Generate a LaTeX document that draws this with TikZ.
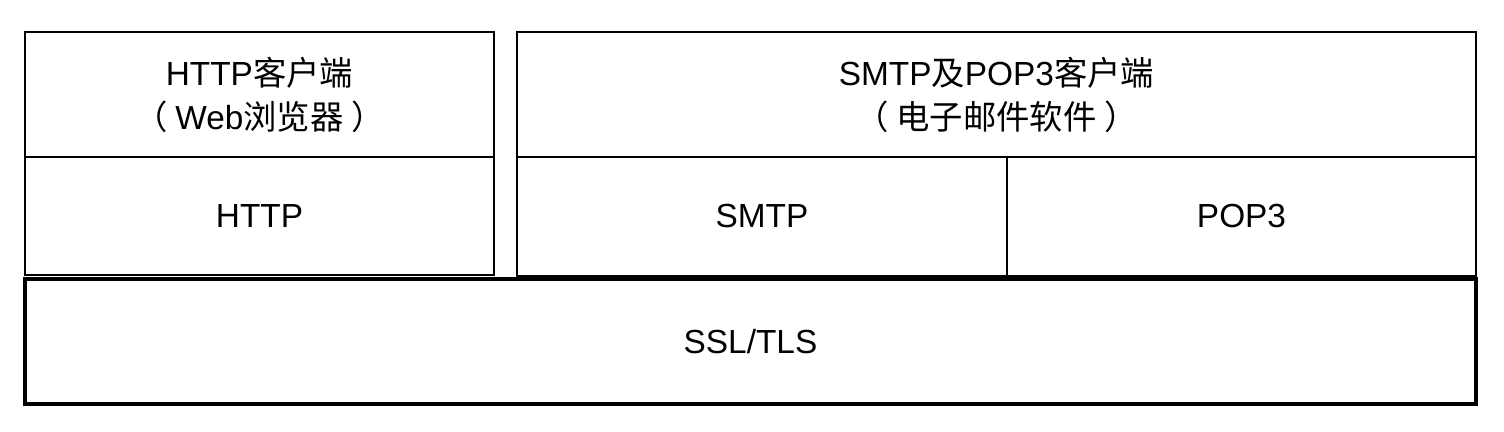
\documentclass[tikz,border=0pt]{standalone}
\usepackage{fontspec}
\setmainfont{Liberation Sans}
\newfontfamily\cjk{Noto Sans CJK SC}
\begin{document}
\begin{tikzpicture}[x=0.02cm,y=-0.02cm,
    layer/.style={draw,line width=1.1pt,inner sep=0pt,outer sep=0pt,
      align=center,font=\fontsize{19}{25}\selectfont},
    base/.style={layer,line width=2pt}]
      \useasboundingbox (0,0) rectangle (1504,432);
      % application side
      \node[layer,minimum width=9.38cm,minimum height=2.5cm] (webclient) at (259.5,94.5)
        {HTTP{\cjk 客户端}\\{\cjk （ }Web{\cjk 浏览器 ）}};
      \node[layer,minimum width=9.38cm,minimum height=2.36cm] (http) at (259.5,216) {HTTP};
      \node[layer,minimum width=19.18cm,minimum height=2.5cm] (mailclient) at (996.5,94.5)
        {SMTP{\cjk 及}POP3{\cjk 客户端}\\{\cjk （ 电子邮件软件 ）}};
      \node[layer,minimum width=9.8cm,minimum height=2.38cm] (smtp) at (762,216.5) {SMTP};
      \node[layer,minimum width=9.38cm,minimum height=2.38cm] (pop) at (1241.5,216.5) {POP3};
      % security layer
      \node[base,minimum width=29.02cm,minimum height=2.5cm] (ssl) at (750.5,341.5) {SSL/TLS};
    \end{tikzpicture}
\end{document}
